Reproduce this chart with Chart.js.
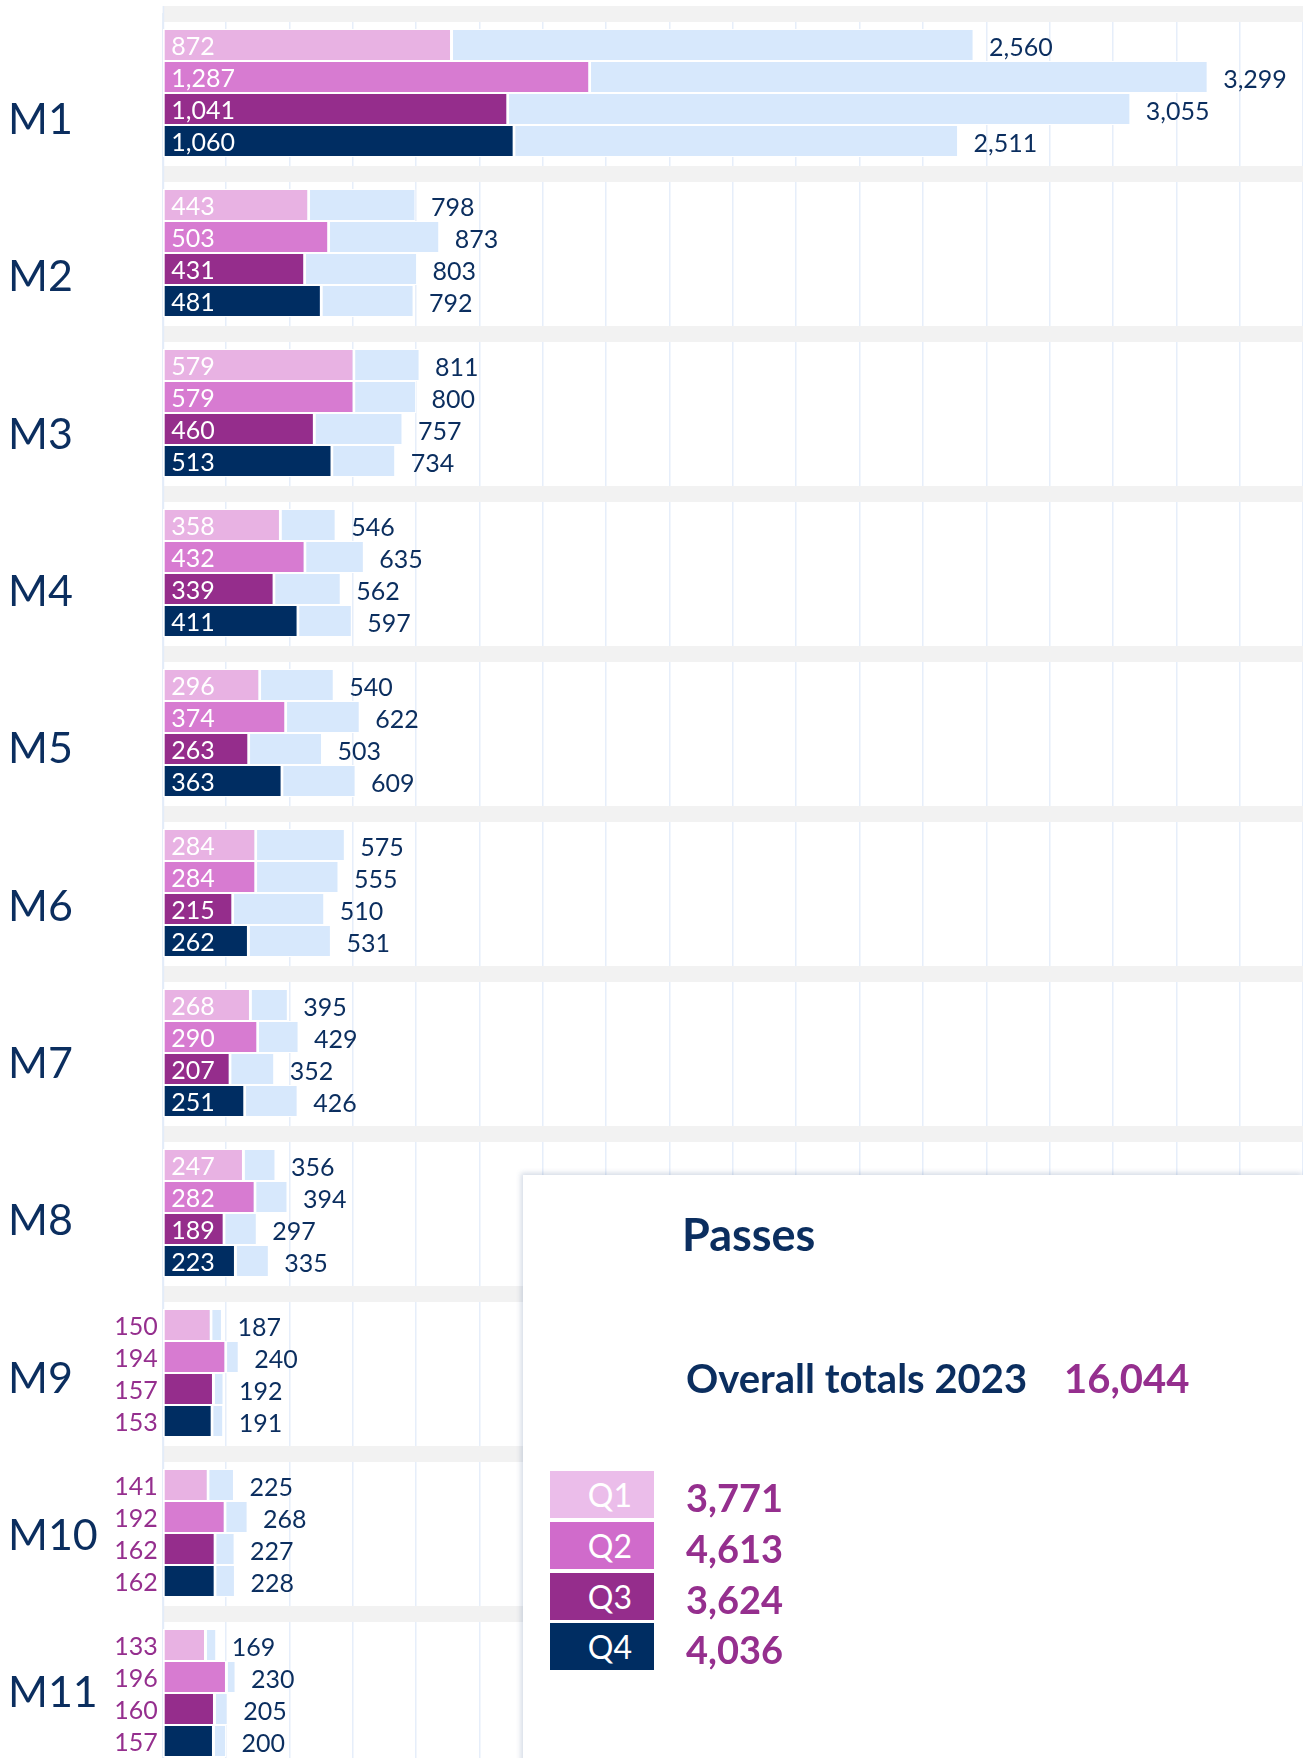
<!DOCTYPE html>
<html>
<head>
<meta charset="utf-8">
<script src="https://cdn.jsdelivr.net/npm/chart.js@4.4.1/dist/chart.umd.min.js"></script>
<style>
html,body{margin:0;padding:0;background:#fff;overflow:hidden;width:1303px;height:1758px;}
#wrap{position:absolute;left:0;top:0;width:1303px;height:1773px;}
#panel{position:absolute;left:522.5px;top:1175px;width:781px;height:620px;background:#fff;
  box-shadow:-2px -2px 5px rgba(60,90,140,0.22);font-family:Lato,'Noto Sans',sans-serif;}
.pt{position:absolute;white-space:nowrap;line-height:1;}
#title{left:159.5px;top:36.7px;font-size:45px;font-weight:700;color:#0b2e5f;}
#overallLabel{left:163.5px;top:183px;font-size:40px;font-weight:700;color:#0b2e5f;}
#overallValue{left:541.5px;top:183px;font-size:40px;font-weight:700;color:#952f8e;}
.sw{position:absolute;left:27.5px;width:104px;height:47px;line-height:47px;font-size:32px;color:#fff;
  text-align:right;box-sizing:border-box;padding-right:22px;}
.val{position:absolute;left:163.5px;height:47px;line-height:47px;font-size:38px;font-weight:700;color:#952f8e;padding-top:3px;}
</style>
</head>
<body>
<div id="wrap"><canvas id="chart"></canvas></div>
<div id="panel">
  <div class="pt" id="title">Passes</div>
  <div class="pt" id="overallLabel">Overall totals 2023</div>
  <div class="pt" id="overallValue"></div>
</div>
<script>
// ---- data ----
const categories = ['M1','M2','M3','M4','M5','M6','M7','M8','M9','M10','M11'];
const quarters = ['Q1','Q2','Q3','Q4'];
const q1Values = [872, 443, 579, 358, 296, 284, 268, 247, 150, 141, 133];
const q2Values = [1287, 503, 579, 432, 374, 284, 290, 282, 194, 192, 196];
const q3Values = [1041, 431, 460, 339, 263, 215, 207, 189, 157, 162, 160];
const q4Values = [1060, 481, 513, 411, 363, 262, 251, 223, 153, 162, 157];
const q1Totals = [2560, 798, 811, 546, 540, 575, 395, 356, 187, 225, 169];
const q2Totals = [3299, 873, 800, 635, 622, 555, 429, 394, 240, 268, 230];
const q3Totals = [3055, 803, 757, 562, 503, 510, 352, 297, 192, 227, 205];
const q4Totals = [2511, 792, 734, 597, 609, 531, 426, 335, 191, 228, 200];
const legendTotals = [3771, 4613, 3624, 4036];
const overallTotal = 16044;
const panelTitle = 'Passes';
const overallLabel = 'Overall totals 2023';

// ---- axes ----
const totalAxisMax = 3600, totalAxisStep = 200;
const quarterAxisMax = 3425;

// ---- styles ----
const FONT = "Lato, 'Noto Sans', sans-serif";
const NAVY = '#0b2e5f', PURPLE = '#952f8e';
const barColors = ['#e8b2e3', '#d77bd1', '#952d8c', '#002d62'];
const swatchColors = ['#ebbdea', '#d06bcb', '#952d8c', '#002d62'];
const totalColor = '#d7e8fc';
const outsideLabelGroups = new Set(['M9', 'M10', 'M11']);

const quarterValues = [q1Values, q2Values, q3Values, q4Values];
const quarterTotals = [q1Totals, q2Totals, q3Totals, q4Totals];

const datasets = [];
quarters.forEach((q, i) => datasets.push({
  label: q, data: quarterValues[i], xAxisID: 'x2', stack: q,
  backgroundColor: barColors[i], borderColor: '#ffffff',
  borderWidth: {top: 1, bottom: 1, left: 2, right: 3}, borderSkipped: false
}));
quarters.forEach((q, i) => datasets.push({
  label: q + ' total', data: quarterTotals[i], xAxisID: 'x', stack: q,
  backgroundColor: totalColor, borderColor: '#ffffff',
  borderWidth: {top: 1, bottom: 1, left: 2, right: 1}, borderSkipped: false
}));

const bandPlugin = {
  id: 'bands',
  beforeDatasetsDraw(chart) {
    const {ctx, chartArea} = chart;
    const y = chart.scales.y;
    ctx.save();
    ctx.fillStyle = '#f2f2f2';
    for (let i = 0; i <= categories.length; i++) {
      const b = y.getPixelForValue(i - 0.5);
      ctx.fillRect(chartArea.left, b - 7, chartArea.right - chartArea.left, 16);
    }
    ctx.strokeStyle = '#e3ecf9';
    ctx.lineWidth = 1.5;
    ctx.beginPath();
    ctx.moveTo(chartArea.left + 0.75, chartArea.top - 7);
    ctx.lineTo(chartArea.left + 0.75, chartArea.bottom);
    ctx.stroke();
    ctx.restore();
  }
};

const labelPlugin = {
  id: 'valueLabels',
  afterDatasetsDraw(chart) {
    const ctx = chart.ctx;
    ctx.save();
    ctx.font = '25px ' + FONT;
    ctx.textBaseline = 'alphabetic';
    chart.data.datasets.forEach((ds, di) => {
      const meta = chart.getDatasetMeta(di);
      const isTotal = ds.xAxisID === 'x';
      meta.data.forEach((el, i) => {
        const {x, y, base} = el.getProps(['x', 'y', 'base'], true);
        const txt = ds.data[i].toLocaleString('en-US');
        if (isTotal) {
          ctx.fillStyle = NAVY; ctx.textAlign = 'left';
          ctx.fillText(txt, x + 15.5, y + 11);
        } else if (outsideLabelGroups.has(categories[i])) {
          ctx.fillStyle = PURPLE; ctx.textAlign = 'right';
          ctx.fillText(txt, base - 5, y + 10);
        } else {
          ctx.fillStyle = '#ffffff'; ctx.textAlign = 'left';
          ctx.fillText(txt, base + 8.5, y + 10);
        }
      });
    });
    ctx.restore();
  }
};

new Chart(document.getElementById('chart'), {
  type: 'bar',
  data: {labels: categories, datasets},
  options: {
    indexAxis: 'y',
    responsive: true,
    maintainAspectRatio: false,
    animation: false,
    layout: {padding: {top: 13, left: 8, right: 0, bottom: 0}},
    datasets: {bar: {categoryPercentage: 0.8, barPercentage: 1.0}},
    plugins: {legend: {display: false}, tooltip: {enabled: false}},
    scales: {
      y: {type: 'category', display: false, offset: true},
      y2: {
        type: 'linear', axis: 'y', position: 'left', reverse: true, offset: false,
        min: -0.6801, max: 10.5065,
        grid: {display: false, offset: false}, border: {display: false},
        afterBuildTicks(s) { s.ticks = categories.map((c, i) => ({value: i})); },
        afterFit(s) { s.width = 154.7; s.paddingTop = 0; s.paddingBottom = 0; },
        ticks: {
          autoSkip: false, crossAlign: 'far', padding: 0, color: NAVY,
          font: {family: FONT, size: 43},
          callback: (v) => categories[v]
        }
      },
      x: {
        type: 'linear', position: 'bottom', min: 0, max: totalAxisMax, stacked: false,
        ticks: {display: false, stepSize: totalAxisStep},
        grid: {color: '#e6eefa', lineWidth: 1.5, drawTicks: false},
        border: {display: false},
        afterFit(s) { s.height = 0; s.paddingLeft = 0; s.paddingRight = 0; }
      },
      x2: {
        type: 'linear', axis: 'x', position: 'bottom', display: false,
        min: 0, max: quarterAxisMax, stacked: false
      }
    }
  },
  plugins: [bandPlugin, labelPlugin]
});

// ---- overlay panel ----
const panel = document.getElementById('panel');
document.getElementById('title').textContent = panelTitle;
document.getElementById('overallLabel').textContent = overallLabel;
document.getElementById('overallValue').textContent = overallTotal.toLocaleString('en-US');
quarters.forEach((q, i) => {
  const top = 296 + 50.8 * i;
  const sw = document.createElement('div');
  sw.className = 'sw'; sw.style.top = top + 'px'; sw.style.background = swatchColors[i];
  sw.textContent = q;
  panel.appendChild(sw);
  const v = document.createElement('div');
  v.className = 'val'; v.style.top = top + 'px';
  v.textContent = legendTotals[i].toLocaleString('en-US');
  panel.appendChild(v);
});
</script>
</body>
</html>
